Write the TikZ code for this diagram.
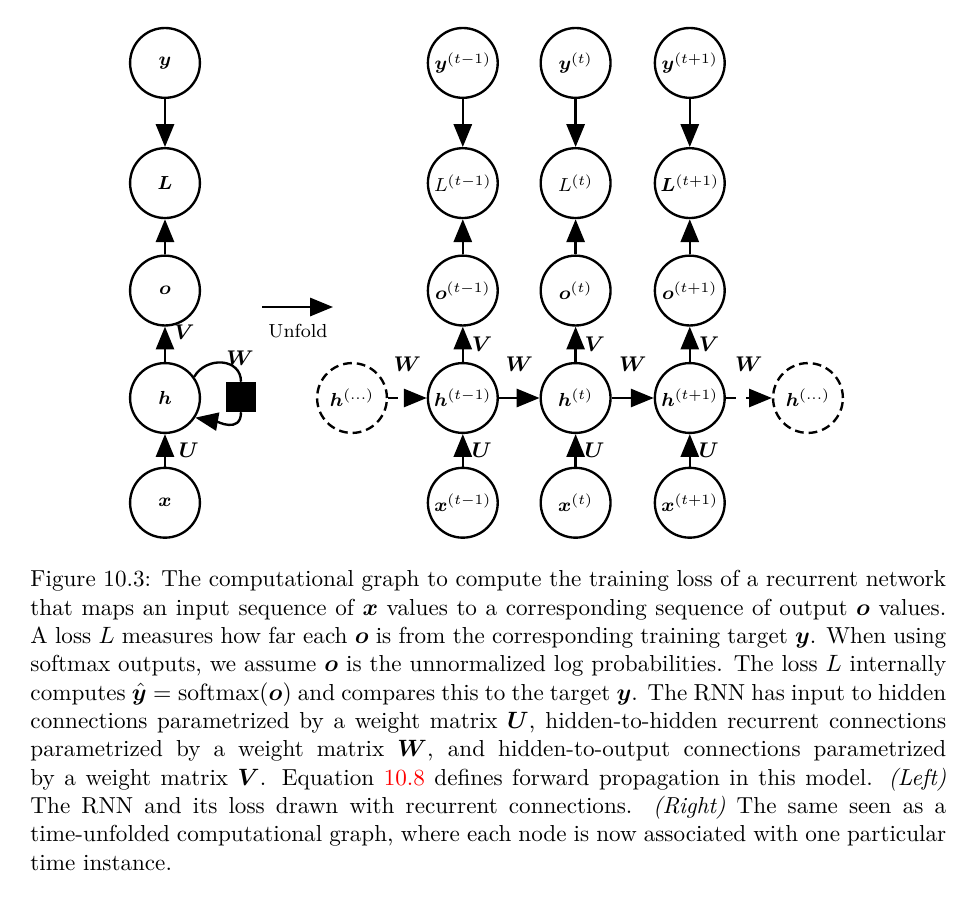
\documentclass[tikz,border=0pt]{standalone}
\usepackage{bm}
\usetikzlibrary{arrows.meta}
\tikzstyle{neuron} = [circle, minimum size=1.04cm, inner sep=0pt, draw=black, line width=1pt, font=\footnotesize]
\tikzstyle{ghost} = [neuron, dash pattern=on 0.13cm off 0.075cm]
\tikzstyle{delaybox} = [rectangle, minimum size=0.44cm, inner sep=0pt, fill=black]
\tikzstyle{arrow} = [line width=1pt, -{Triangle[length=0.34cm, width=0.27cm]}]
\tikzstyle{darrow} = [arrow, dash pattern=on 0.15cm off 0.15cm]
\tikzstyle{lbl} = [font=\small]
\begin{document}
\begin{tikzpicture}[node distance=1.6cm]
\useasboundingbox (0,0) rectangle (14.326,-13.611);

% folded network
\node (h) [neuron] at (2.457,-5.927) {$\bm{h}$};
\node (o) [neuron, above of=h] {$\bm{o}$};
\node (L) [neuron, above of=o] {$\bm{L}$};
\node (y) [neuron, above of=L, yshift=0.19cm] {$\bm{y}$};
\node (x) [neuron, below of=h, yshift=0.04cm] {$\bm{x}$};
\node (delay) [delaybox] at (3.589,-5.912) {};
\node (wloop) [lbl] at (3.574,-5.331) {$\bm{W}$};

% unfold arrow
\coordinate (unfoldA) at (3.902,-4.572);
\coordinate (unfoldB) at (4.959,-4.572);
\node (unfold) [font=\footnotesize] at (4.438,-4.929) {Unfold};

% unfolded network
\node (hl) [ghost] at (5.242,-5.927) {$\bm{h}^{(\dots)}$};
\node (h1) [neuron, right of=hl, xshift=0.05cm] {$\bm{h}^{(t-1)}$};
\node (h2) [neuron, right of=h1, xshift=0.08cm] {$\bm{h}^{(t)}$};
\node (h3) [neuron, right of=h2, xshift=0.1cm] {$\bm{h}^{(t+1)}$};
\node (hr) [ghost, right of=h3, xshift=0.16cm] {$\bm{h}^{(\dots)}$};

\node (o1) [neuron, above of=h1] {$\bm{o}^{(t-1)}$};
\node (L1) [neuron, above of=o1] {$L^{(t-1)}$};
\node (y1) [neuron, above of=L1, yshift=0.19cm] {$\bm{y}^{(t-1)}$};
\node (x1) [neuron, below of=h1, yshift=0.04cm] {$\bm{x}^{(t-1)}$};

\node (o2) [neuron, above of=h2] {$\bm{o}^{(t)}$};
\node (L2) [neuron, above of=o2] {$L^{(t)}$};
\node (y2) [neuron, above of=L2, yshift=0.19cm] {$\bm{y}^{(t)}$};
\node (x2) [neuron, below of=h2, yshift=0.04cm] {$\bm{x}^{(t)}$};

\node (o3) [neuron, above of=h3] {$\bm{o}^{(t+1)}$};
\node (L3) [neuron, above of=o3] {$\bm{L}^{(t+1)}$};
\node (y3) [neuron, above of=L3, yshift=0.19cm] {$\bm{y}^{(t+1)}$};
\node (x3) [neuron, below of=h3, yshift=0.04cm] {$\bm{x}^{(t+1)}$};

% caption
\node (caption) [anchor=north west, text width=388pt, align=justify, inner sep=0pt, font=\fontsize{9.8pt}{12pt}\selectfont] at (0.447,-8.49) {\hyphenpenalty=10000 Figure 10.3: The computational graph to compute the training loss of a recurrent network\linebreak that maps an input sequence of $\bm{x}$ values to a corresponding sequence of output $\bm{o}$ values.\linebreak A loss $L$ measures how far each $\bm{o}$ is from the corresponding training target $\bm{y}$. When using\linebreak softmax outputs, we assume $\bm{o}$ is the unnormalized log probabilities. The loss $L$ internally\linebreak computes $\hat{\bm{y}} = \mathrm{softmax}(\bm{o})$ and compares this to the target $\bm{y}$. The RNN has input to hidden\linebreak connections parametrized by a weight matrix $\bm{U}$, hidden-to-hidden recurrent connections\linebreak parametrized by a weight matrix $\bm{W}$, and hidden-to-output connections parametrized\linebreak by a weight matrix $\bm{V}$. Equation {\color{red}10.8} defines forward propagation in this model. \textit{(Left)}\linebreak The RNN and its loss drawn with recurrent connections. \textit{(Right)} The same seen as a\linebreak time-unfolded computational graph, where each node is now associated with one particular\linebreak time instance.};

% Arrows
\draw [arrow] (y) -- (L);
\draw [arrow] (o) -- (L);
\draw [arrow] (h) -- node[lbl, right, pos=0.85] {$\bm{V}$} (o);
\draw [arrow] (x) -- node[lbl, right, xshift=2pt] {$\bm{U}$} (h);
\draw [line width=1pt] (h.36) to[out=60, in=90, looseness=1.3] (delay.north);
\draw [arrow] (delay.south) to[out=-90, in=-10, looseness=1.2] (h.-33);
\draw [arrow] (unfoldA) -- (unfoldB);

\draw [arrow] (y1) -- (L1);
\draw [arrow] (o1) -- (L1);
\draw [arrow] (h1) -- node[lbl, right] {$\bm{V}$} (o1);
\draw [arrow] (x1) -- node[lbl, right] {$\bm{U}$} (h1);
\draw [arrow] (y2) -- (L2);
\draw [arrow] (o2) -- (L2);
\draw [arrow] (h2) -- node[lbl, right] {$\bm{V}$} (o2);
\draw [arrow] (x2) -- node[lbl, right] {$\bm{U}$} (h2);
\draw [arrow] (y3) -- (L3);
\draw [arrow] (o3) -- (L3);
\draw [arrow] (h3) -- node[lbl, right] {$\bm{V}$} (o3);
\draw [arrow] (x3) -- node[lbl, right] {$\bm{U}$} (h3);

\draw [darrow] (hl) -- node[lbl, above=0.26cm] {$\bm{W}$} (h1);
\draw [arrow] (h1) -- node[lbl, above=0.26cm] {$\bm{W}$} (h2);
\draw [arrow] (h2) -- node[lbl, above=0.26cm] {$\bm{W}$} (h3);
\draw [darrow] (h3) -- node[lbl, above=0.26cm] {$\bm{W}$} (hr);

\end{tikzpicture}
\end{document}
